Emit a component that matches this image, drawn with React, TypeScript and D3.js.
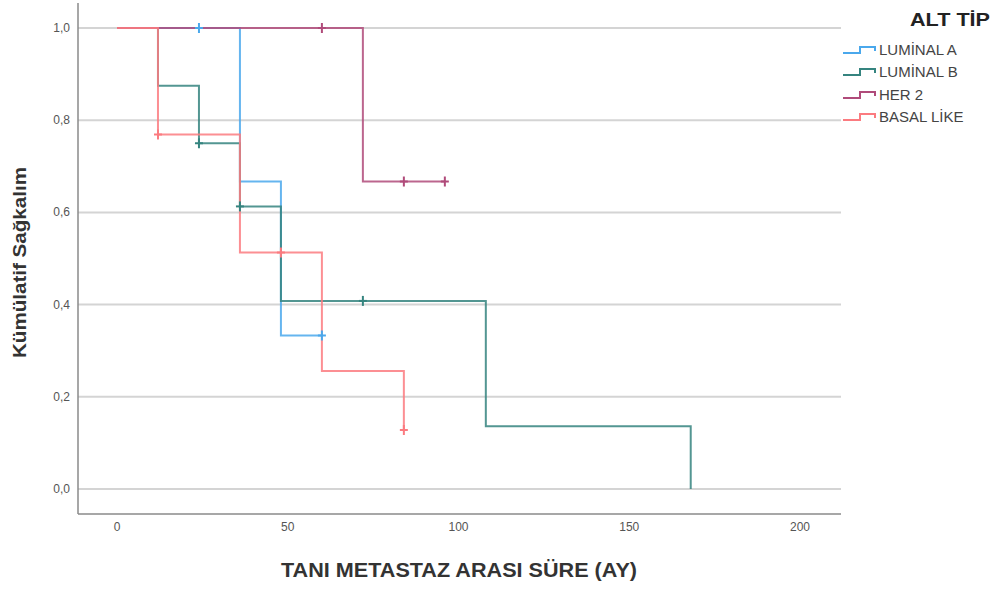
import React from "react";
import * as d3 from "d3";

const groups = ["LUMİNAL A", "LUMİNAL B", "HER 2", "BASAL LİKE"];
const colors = ["#4aa8ec", "#35847f", "#b04b7a", "#fb7b80"];

// step functions: [time, survival] pairs (survival after the time point)
const lumA: [number, number][] = [[0, 1], [36, 0.667], [48, 0.333], [60, 0.333]];
const lumB: [number, number][] = [[0, 1], [12, 0.875], [24, 0.75], [36, 0.613], [48, 0.408], [108, 0.136], [168, 0], [168, 0]];
const her2: [number, number][] = [[0, 1], [72, 0.667], [96, 0.667]];
const basal: [number, number][] = [[0, 1], [12, 0.769], [36, 0.513], [60, 0.256], [84, 0.128]];

const censA: [number, number][] = [[24, 1], [60, 0.333]];
const censB: [number, number][] = [[24, 0.75], [36, 0.613], [72, 0.408]];
const censH: [number, number][] = [[60, 1], [84, 0.667], [96, 0.667]];
const censBa: [number, number][] = [[12, 0.769], [48, 0.513], [84, 0.128]];

const seriesSteps = [lumA, lumB, her2, basal];
const seriesCens = [censA, censB, censH, censBa];

const xTicks = [0, 50, 100, 150, 200];
const yTicks = [0, 0.2, 0.4, 0.6, 0.8, 1.0];

export default function App() {
  const W = 993, H = 589;
  const x = d3.scaleLinear().domain([0, 200]).range([117, 800]);
  const y = d3.scaleLinear().domain([0, 1]).range([489, 28]);
  const plotL = 78, plotR = 841, plotT = 3, plotB = 514;
  const line = d3.line<[number, number]>().x(d => x(d[0])).y(d => y(d[1])).curve(d3.curveStepAfter);
  const font = "'Liberation Sans', Arial, sans-serif";
  const legendY = [50, 72, 95, 117];

  return (
    <svg width={W} height={H} style={{ position: "absolute", left: 0, top: 0, display: "block", background: "#fff" }}>
      {yTicks.map(t => (
        <line key={"g" + t} x1={plotL} x2={plotR} y1={y(t)} y2={y(t)} stroke="#d4d4d4" strokeWidth={2} />
      ))}
      <line x1={plotL} x2={plotL} y1={plotT} y2={plotB} stroke="#8a8a8a" strokeWidth={1.5} />
      <line x1={plotL} x2={plotR} y1={plotB} y2={plotB} stroke="#8a8a8a" strokeWidth={1.5} />
      {yTicks.map(t => (
        <text key={"yt" + t} x={70} y={y(t) + 4} textAnchor="end" fontSize={12} fill="#555" fontFamily={font}>
          {d3.format(".1f")(t).replace(".", ",")}
        </text>
      ))}
      {xTicks.map(t => (
        <text key={"xt" + t} x={x(t)} y={531} textAnchor="middle" fontSize={12} fill="#555" fontFamily={font}>
          {t}
        </text>
      ))}
      <text x={281} y={577} fontSize={21} fontWeight="bold" fill="#333" fontFamily={font} textLength={356} lengthAdjust="spacingAndGlyphs">
        TANI METASTAZ ARASI SÜRE (AY)
      </text>
      <text transform="translate(26,358) rotate(-90)" fontSize={18} fontWeight="bold" fill="#333" fontFamily={font} textLength={191} lengthAdjust="spacingAndGlyphs">
        Kümülatif Sağkalım
      </text>
      {seriesSteps.map((s, i) => (
        <path key={"s" + i} d={line(s) || ""} fill="none" stroke={colors[i]} strokeWidth={2} strokeOpacity={0.85} />
      ))}
      {seriesCens.map((c, i) =>
        c.map((p, j) => (
          <g key={"c" + i + "_" + j} stroke={colors[i]} strokeWidth={2}>
            <line x1={x(p[0])} x2={x(p[0])} y1={y(p[1]) - 5} y2={y(p[1]) + 5} />
            <line x1={x(p[0]) - 4} x2={x(p[0]) + 4} y1={y(p[1])} y2={y(p[1])} />
          </g>
        ))
      )}
      <text x={910} y={26} fontSize={19} fontWeight="bold" fill="#222" fontFamily={font} textLength={80} lengthAdjust="spacingAndGlyphs">
        ALT TİP
      </text>
      {groups.map((g, i) => (
        <g key={"lg" + i}>
          <path d={`M843,${legendY[i] + 3}H860V${legendY[i] - 3}H875V${legendY[i] + 1}`} fill="none" stroke={colors[i]} strokeWidth={2} />
          <text x={879} y={legendY[i] + 5} fontSize={15} fill="#444" fontFamily={font}>{g}</text>
        </g>
      ))}
    </svg>
  );
}
